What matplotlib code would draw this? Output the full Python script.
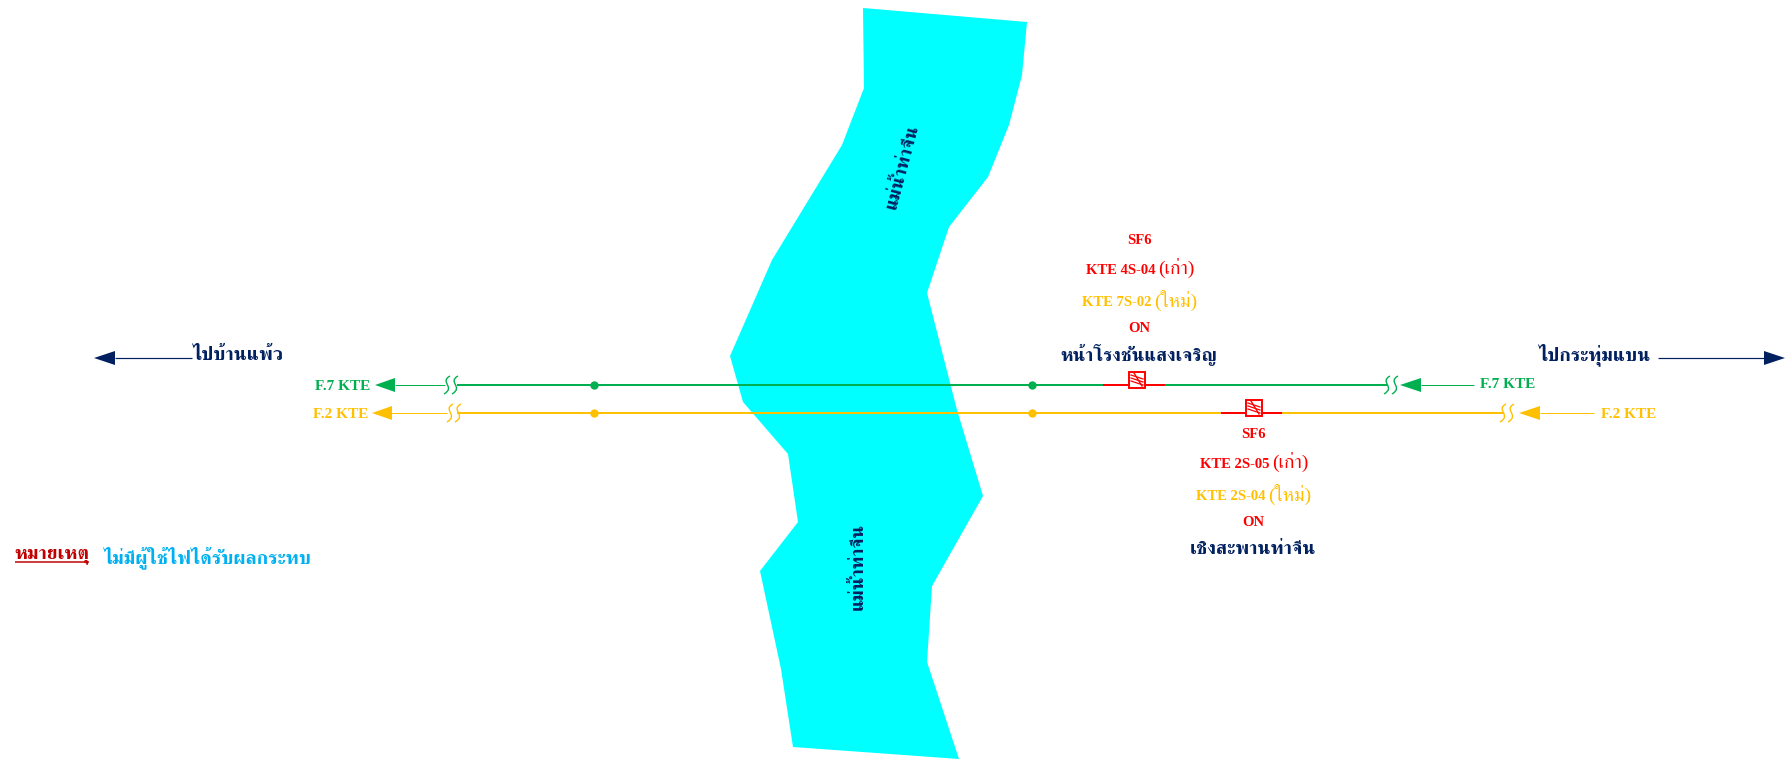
import matplotlib
matplotlib.use("Agg")
import matplotlib.pyplot as plt
from matplotlib.patches import Polygon, Rectangle, PathPatch
from matplotlib.path import Path

NAVY = "#002060"
RED = "#FF0000"
GREEN = "#00B050"
YELLOW = "#FFC000"
RIVER = "#00FFFF"
FONTS = ["Liberation Serif", "FreeSerif"]

# river outline, picture pixels
river_x = [863, 1027, 1022, 1009, 988, 949, 927, 957, 983, 932, 927, 959, 793, 781, 760, 798, 788, 743, 730, 772, 842, 864]
river_y = [8, 22, 75, 125, 177, 227, 293, 410, 496, 586, 662, 759, 747, 669, 571, 522, 454, 402, 356, 260, 145, 88]

# feeders: y, line start/end, dots
green_y = 385
yellow_y = 413
green_span = (457, 1387)
yellow_span = (457, 1503)
dot_x = [594, 1032]

# labels: text, x, y, size, colour
labels_center = [
    ("SF6", 1139, 240, 10.5, RED),
    ("ON", 1139, 328, 10.5, RED),
    ("หน้าโรงชันแสงเจริญ", 1139, 355, 13.6, NAVY),
    ("SF6", 1253, 435, 10.5, RED),
    ("ON", 1253, 523, 10.5, RED),
    ("เชิงสะพานท่าจีน", 1253, 550, 14, NAVY),
    ("F.7 KTE", 343, 386, 11, GREEN),
    ("F.2 KTE", 341, 415, 11, YELLOW),
    ("F.7 KTE", 1508, 385, 11, GREEN),
    ("F.2 KTE", 1629, 415, 11, YELLOW),
    ("ไปบ้านแพ้ว", 238, 355, 14, NAVY),
    ("ไปกระทุ่มแบน", 1594, 355, 14, NAVY),
    ("ไม่มีผู้ใช้ไฟได้รับผลกระทบ", 207, 558, 14, "#00B0F0"),
]

# switch names: code, (old/new), split x, y, colour
labels_split = [
    ("KTE 4S-04", "(เก่า)", 1155, 270, RED),
    ("KTE 7S-02", "(ใหม่)", 1151, 302, YELLOW),
    ("KTE 2S-05", "(เก่า)", 1269, 464, RED),
    ("KTE 2S-04", "(ใหม่)", 1265, 496, YELLOW),
]

fig = plt.figure(figsize=(17.87, 7.59), dpi=100)
ax = fig.add_axes([0, 0, 1, 1])
ax.set_xlim(0, 1787)
ax.set_ylim(759, 0)
ax.axis("off")


def hline(x0, x1, y, color, px):
    ax.plot([x0, x1], [y, y], color=color, lw=px * 0.72, solid_capstyle="butt", zorder=3)


def head(tip, base, y, color, half=7):
    ax.add_patch(Polygon([(tip, y), (base, y - half), (base, y + half)], closed=True,
                         fc=color, ec="none", zorder=4))


def line_break(x, y, color):
    # two small S curves where the line is cut
    for dx in (-5, 3):
        verts = [(x + dx + 3, y - 9), (x + dx - 8, y - 3), (x + dx + 9, y + 2), (x + dx - 3, y + 9)]
        codes = [Path.MOVETO, Path.CURVE4, Path.CURVE4, Path.CURVE4]
        ax.add_patch(PathPatch(Path(verts, codes), fc="none", ec=color, lw=1.0, zorder=5))


def switch(x, y):
    ax.add_patch(Rectangle((x - 8, y - 8), 16, 16, fc="white", ec=RED, lw=1.4, zorder=5))
    ax.plot([x - 3, x + 5], [y - 7, y + 6], color=RED, lw=1.0, zorder=6)
    for dy in (0, 3, 6):
        ax.plot([x - 6, x + 6], [y - 5 + dy, y - 1 + dy], color=RED, lw=0.9, zorder=6)


ax.add_patch(Polygon(list(zip(river_x, river_y)), closed=True, fc=RIVER, ec="none", zorder=1))

# main feeders
hline(green_span[0], green_span[1], green_y, GREEN, 2)
hline(yellow_span[0], yellow_span[1], yellow_y, YELLOW, 2)
ax.scatter(dot_x, [green_y] * 2, s=36, color=GREEN, linewidths=0, zorder=4)
ax.scatter(dot_x, [yellow_y] * 2, s=36, color=YELLOW, linewidths=0, zorder=4)

# thin feeder ends with arrows
hline(395, 445, green_y, GREEN, 1)
head(375, 395, green_y, GREEN)
hline(391, 447, yellow_y, YELLOW, 1)
head(372, 392, yellow_y, YELLOW)
hline(1421, 1474, green_y, GREEN, 1)
head(1400, 1421, green_y, GREEN)
hline(1540, 1594, yellow_y, YELLOW, 1)
head(1519, 1540, yellow_y, YELLOW)

line_break(452, green_y, GREEN)
line_break(455, yellow_y, YELLOW)
line_break(1392, green_y, GREEN)
line_break(1508, yellow_y, YELLOW)

# switches
hline(1103, 1165, green_y, RED, 2)
hline(1221, 1282, yellow_y, RED, 2)
switch(1137, 380)
switch(1254, 408)

# direction arrows
hline(115, 192, 358, NAVY, 1.2)
head(94, 115, 358, NAVY)
hline(1658, 1765, 358, NAVY, 1.2)
head(1785, 1764, 358, NAVY)

for text, x, y, size, color in labels_center:
    ax.text(x, y, text, ha="center", va="center", fontsize=size, color=color,
            family=FONTS, weight="bold", zorder=7)

for code, state, x, y, color in labels_split:
    ax.text(x, y, code, ha="right", va="center", fontsize=10.5, color=color,
            family=FONTS, weight="bold", zorder=7)
    ax.text(x + 3, y - 2, state, ha="left", va="center", fontsize=14, color=color,
            family=FONTS, weight="normal", zorder=7)

# note, underlined by hand
ax.text(52, 555, "หมายเหตุ", ha="center", va="center", fontsize=14, color="#C00000",
        family=FONTS, weight="bold", zorder=7)
hline(15, 89, 562, "#C00000", 1.5)

# river name
ax.text(903, 167, "แม่น้ำท่าจีน", rotation=75, ha="center", va="center", fontsize=13.5,
        color=NAVY, family=FONTS, weight="bold", zorder=7)
ax.text(858, 566, "แม่น้ำท่าจีน", rotation=90, ha="center", va="center", fontsize=13.5,
        color=NAVY, family=FONTS, weight="bold", zorder=7)

fig.savefig("out.png", dpi=100, facecolor="white")
